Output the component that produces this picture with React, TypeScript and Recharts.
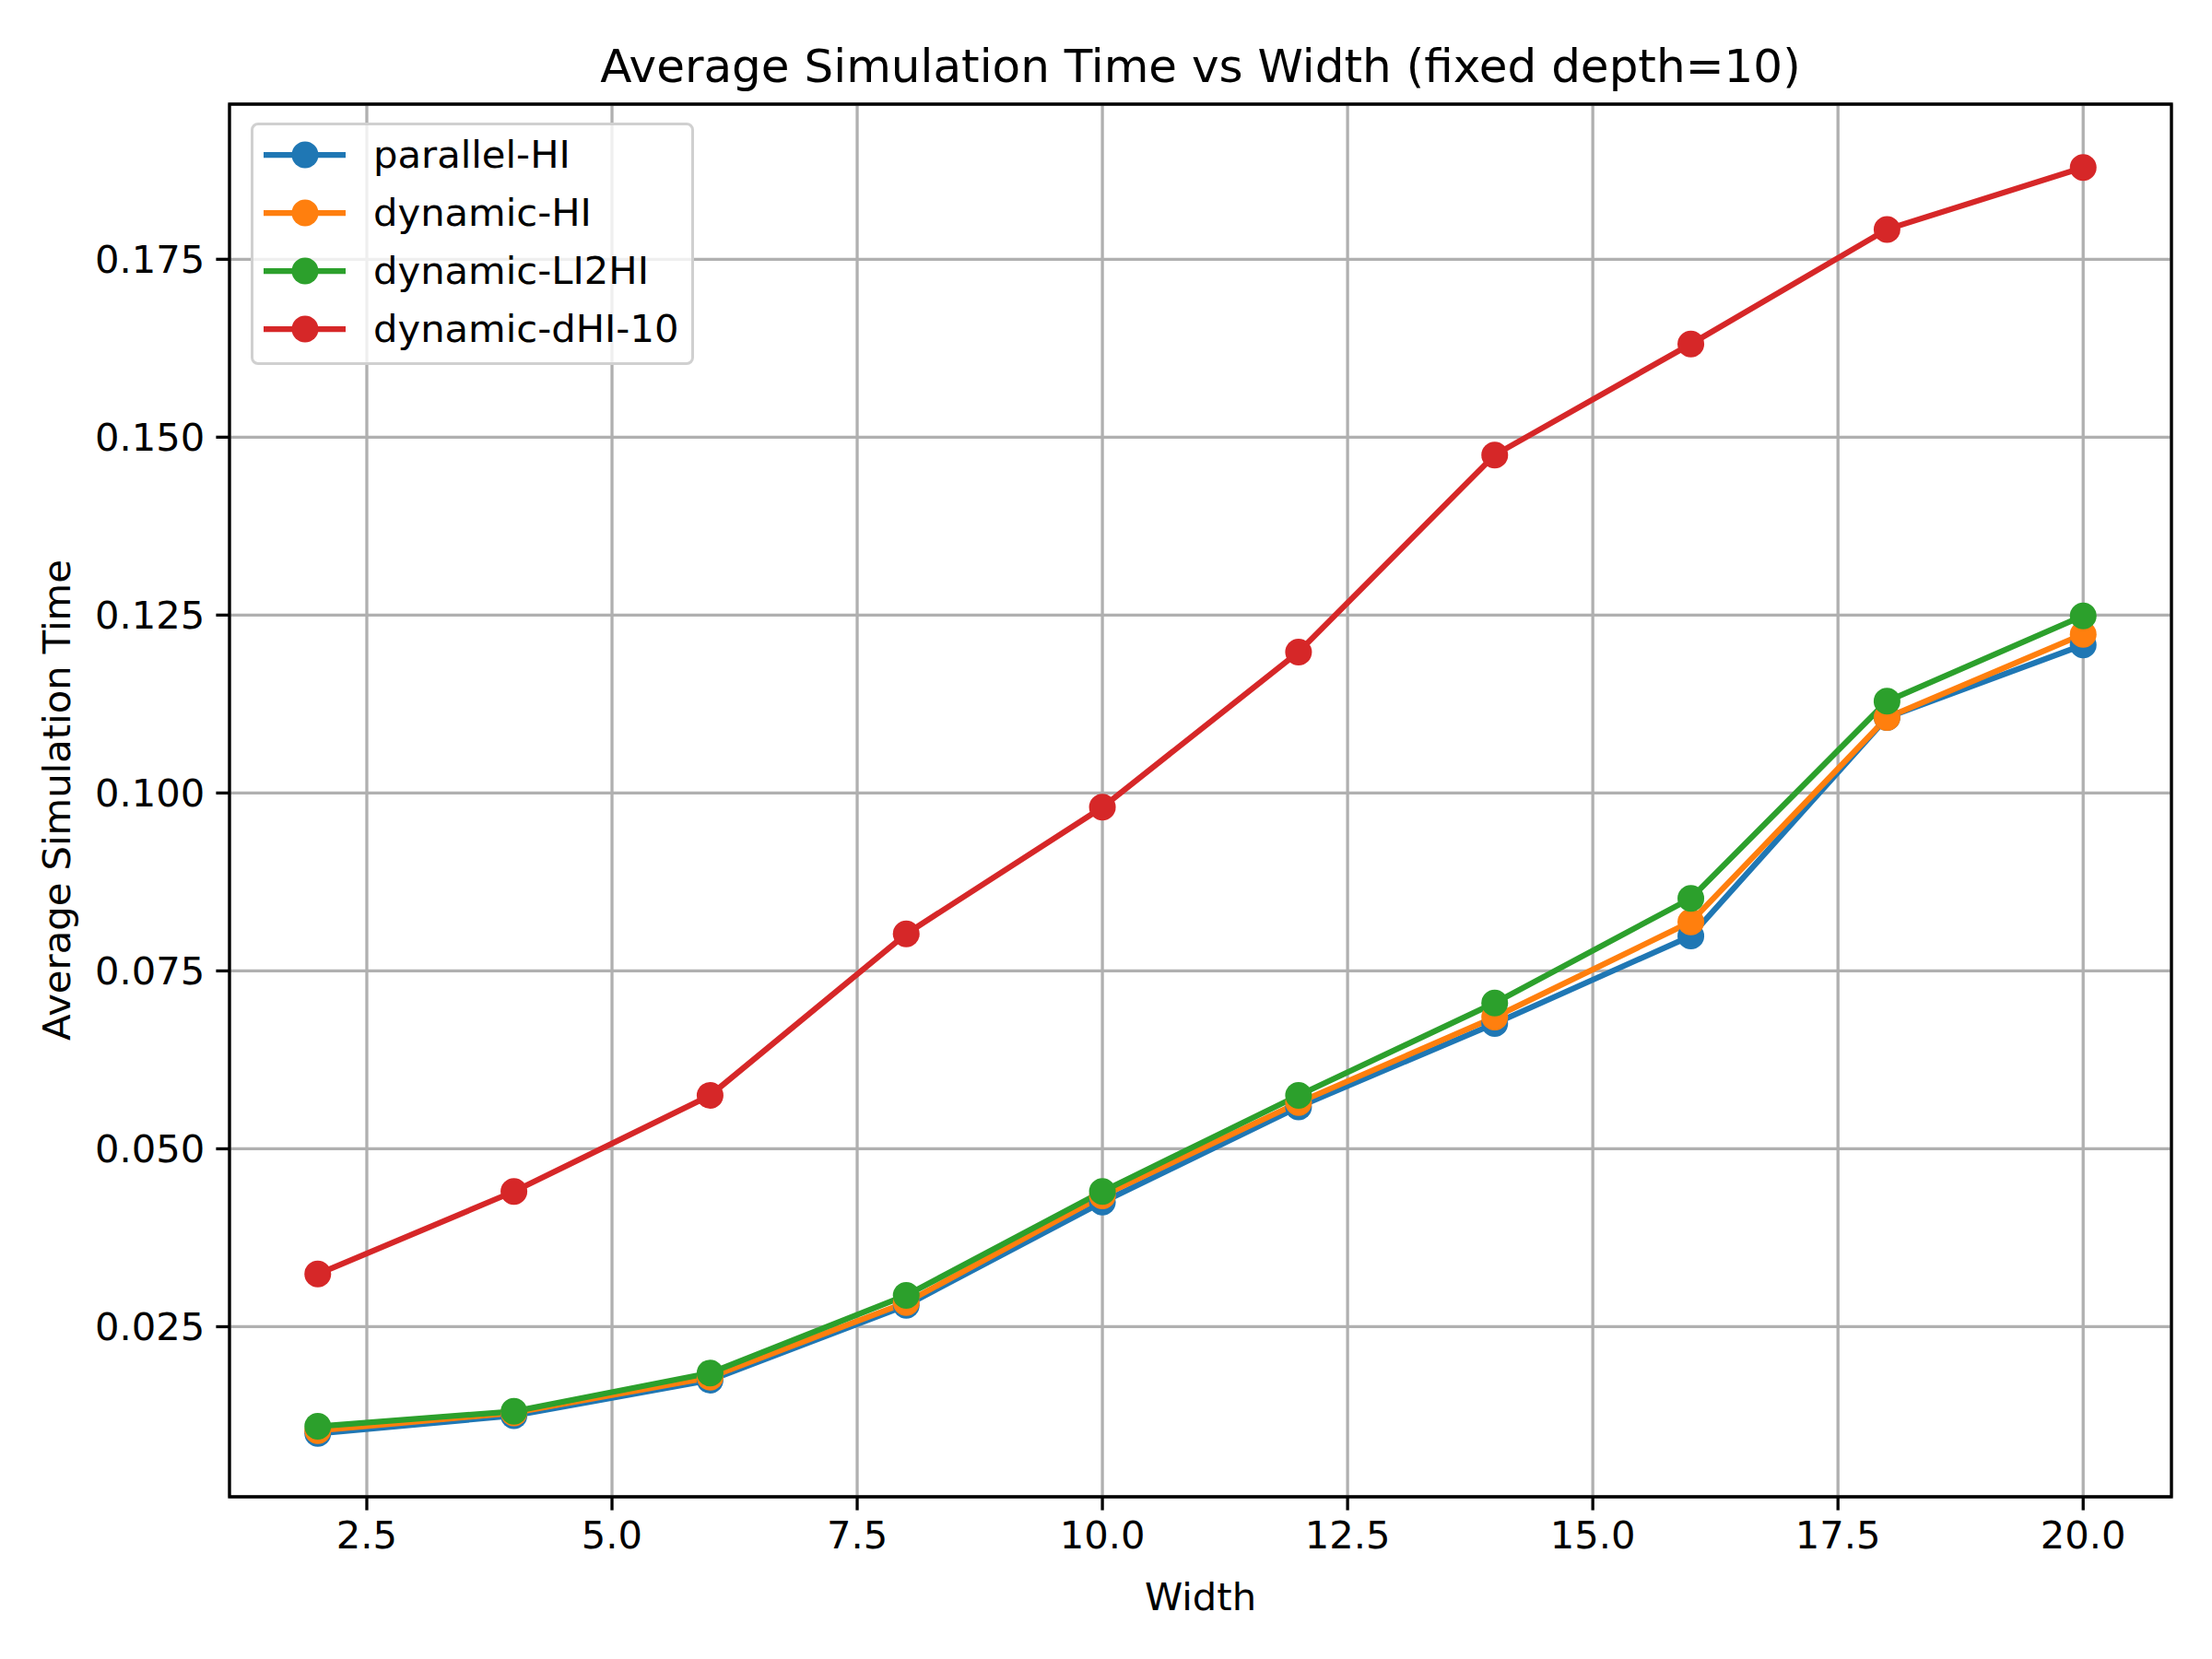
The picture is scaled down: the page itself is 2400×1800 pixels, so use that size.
import React from "react";
import {
  CartesianGrid,
  Line,
  LineChart,
  ReferenceArea,
  XAxis,
  YAxis,
} from "recharts";

const widths = [2, 4, 6, 8, 10, 12, 14, 16, 18, 20];
const parallelHI = [0.01, 0.0125, 0.0175, 0.028, 0.0425, 0.0559, 0.0676, 0.0799, 0.1106, 0.1208];
const dynamicHI = [0.0104, 0.0129, 0.0179, 0.0284, 0.0434, 0.0565, 0.0685, 0.0819, 0.1106, 0.1223];
const dynamicLI2HI = [0.011, 0.0131, 0.0185, 0.0294, 0.044, 0.0575, 0.0705, 0.0852, 0.1129, 0.1249];
const dynamicDHI10 = [0.0324, 0.044, 0.0575, 0.0802, 0.098, 0.1198, 0.1475, 0.1631, 0.1792, 0.1879];

const xTicks = [2.5, 5, 7.5, 10, 12.5, 15, 17.5, 20];
const yTicks = [0.025, 0.05, 0.075, 0.1, 0.125, 0.15, 0.175];

const series = [
  { key: "parallelHI", name: "parallel-HI", color: "#1f77b4" },
  { key: "dynamicHI", name: "dynamic-HI", color: "#ff7f0e" },
  { key: "dynamicLI2HI", name: "dynamic-LI2HI", color: "#2ca02c" },
  { key: "dynamicDHI10", name: "dynamic-dHI-10", color: "#d62728" },
];

const data = widths.map((w, i) => ({
  width: w,
  parallelHI: parallelHI[i],
  dynamicHI: dynamicHI[i],
  dynamicLI2HI: dynamicLI2HI[i],
  dynamicDHI10: dynamicDHI10[i],
}));

const FONT = "'DejaVu Sans', sans-serif";
const FS = 41.7;
const X_DOMAIN: [number, number] = [1.1, 20.9];
const Y_DOMAIN: [number, number] = [0.0011, 0.1968];

function LegendBox() {
  return (
    <div
      style={{
        position: "absolute",
        left: 272,
        top: 133,
        width: 475,
        height: 257,
        border: "3px solid #d0d0d0",
        borderRadius: 8,
        background: "rgba(255,255,255,0.8)",
        fontFamily: FONT,
        fontSize: FS,
      }}
    >
      {series.map((s, i) => (
        <div
          key={s.key}
          style={{
            position: "absolute",
            left: 0,
            top: 32 + i * 63 - 30,
            height: 60,
            display: "flex",
            alignItems: "center",
          }}
        >
          <svg width={130} height={60} style={{ display: "block" }}>
            <line x1={11} x2={100} y1={30} y2={30} stroke={s.color} strokeWidth={6.25} />
            <circle cx={56} cy={30} r={14.5} fill={s.color} />
          </svg>
          <span style={{ lineHeight: 1, color: "#000" }}>{s.name}</span>
        </div>
      ))}
    </div>
  );
}

export default function App() {
  return (
    <div
      style={{
        position: "absolute",
        left: 0,
        top: 0,
        width: 2400,
        height: 1800,
        background: "#fff",
        fontFamily: FONT,
      }}
    >
      <LineChart
        width={2400}
        height={1800}
        data={data}
        margin={{ top: 113, right: 44, bottom: 96, left: 99 }}
      >
        <CartesianGrid stroke="#b0b0b0" strokeWidth={3.3} />
        <XAxis
          dataKey="width"
          type="number"
          domain={X_DOMAIN}
          ticks={xTicks}
          allowDataOverflow
          height={80}
          axisLine={false}
          tickLine={{ stroke: "#000", strokeWidth: 3.3 }}
          tickSize={14.6}
          tickMargin={12}
          tick={{ fill: "#000", fontSize: FS, fontFamily: FONT }}
          tickFormatter={(v: number) => v.toFixed(1)}
        />
        <YAxis
          type="number"
          domain={Y_DOMAIN}
          ticks={yTicks}
          allowDataOverflow
          width={150}
          axisLine={false}
          tickLine={{ stroke: "#000", strokeWidth: 3.3 }}
          tickSize={14.6}
          tickMargin={12}
          tick={{ fill: "#000", fontSize: FS, fontFamily: FONT }}
          tickFormatter={(v: number) => v.toFixed(3)}
        />
        <ReferenceArea
          x1={X_DOMAIN[0]}
          x2={X_DOMAIN[1]}
          y1={Y_DOMAIN[0]}
          y2={Y_DOMAIN[1]}
          fill="none"
          stroke="#000"
          strokeWidth={3.3}
          ifOverflow="visible"
        />
        {series.map((s) => (
          <Line
            key={s.key}
            dataKey={s.key}
            name={s.name}
            stroke={s.color}
            strokeWidth={6.25}
            type="linear"
            dot={{ r: 14.5, fill: s.color, stroke: s.color, strokeWidth: 0 }}
            activeDot={false}
            isAnimationActive={false}
          />
        ))}
      </LineChart>
      <LegendBox />
      <div
        style={{
          position: "absolute",
          left: 249,
          width: 2107,
          top: 42,
          textAlign: "center",
          fontSize: 50,
          lineHeight: "60px",
          color: "#000",
        }}
      >
        Average Simulation Time vs Width (fixed depth=10)
      </div>
      <div
        style={{
          position: "absolute",
          left: 249,
          width: 2107,
          top: 1708,
          textAlign: "center",
          fontSize: FS,
          lineHeight: "50px",
          color: "#000",
        }}
      >
        Width
      </div>
      <div
        style={{
          position: "absolute",
          left: 62 - 400,
          top: 868 - 25,
          width: 800,
          height: 50,
          textAlign: "center",
          fontSize: FS,
          lineHeight: "50px",
          color: "#000",
          transform: "rotate(-90deg)",
          transformOrigin: "center center",
        }}
      >
        Average Simulation Time
      </div>
    </div>
  );
}
